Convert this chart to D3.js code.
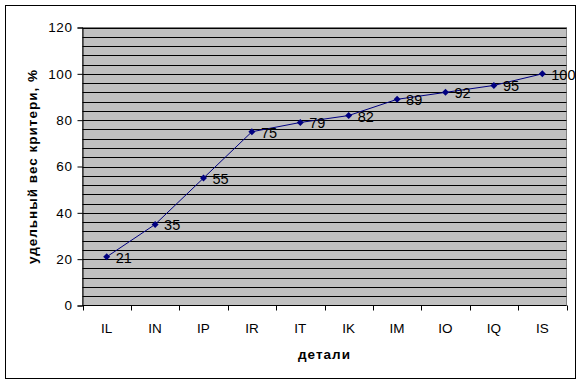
<!DOCTYPE html>
<html lang="ru">
<head>
<meta charset="UTF-8">
<title>удельный вес критери</title>
<script src="https://cdnjs.cloudflare.com/ajax/libs/d3/7.8.5/d3.min.js"></script>
<style>
    body { margin: 0; background: #fff; font-family: "Liberation Sans", Arial, sans-serif; }
    svg text { fill: #000; }
</style>
</head>
<body>
<div id="chart"></div>
<script>
    const categories = ["IL", "IN", "IP", "IR", "IT", "IK", "IM", "IO", "IQ", "IS"];
    const values = [21, 35, 55, 75, 79, 82, 89, 92, 95, 100];
    const yTicks = [0, 20, 40, 60, 80, 100, 120];
    const gridValues = d3.range(0, 121, 4);

    const W = 582, H = 385;
    const plot = { left: 82.5, right: 566.5, top: 27.5, bottom: 305.5 };

    const svg = d3.select("#chart").append("svg")
        .attr("width", W).attr("height", H);

    // outer frame
    svg.append("rect")
        .attr("x", 5.5).attr("y", 5.5)
        .attr("width", 570).attr("height", 373)
        .attr("fill", "#fff").attr("stroke", "#000").attr("stroke-width", 1);

    const x = d3.scaleBand().domain(categories).range([plot.left, plot.right]);
    const y = d3.scaleLinear().domain([0, 120]).range([plot.bottom, plot.top]);

    // plot area
    svg.append("rect")
        .attr("x", plot.left).attr("y", plot.top)
        .attr("width", plot.right - plot.left).attr("height", plot.bottom - plot.top)
        .attr("fill", "#c0c0c0").attr("stroke", "#808080");

    // gridlines
    svg.append("g").selectAll("line")
        .data(gridValues.filter(d => d > 0))
        .join("line")
        .attr("x1", plot.left).attr("x2", plot.right)
        .attr("y1", d => Math.round(y(d)) + 0.5).attr("y2", d => Math.round(y(d)) + 0.5)
        .attr("stroke", "#000").attr("stroke-width", 1);

    // y axis
    const yAxis = svg.append("g")
        .attr("transform", `translate(${plot.left},0)`)
        .call(d3.axisLeft(y).tickValues(yTicks).tickSize(5).tickPadding(5));
    yAxis.select(".domain").attr("stroke", "#000");
    yAxis.selectAll("text")
        .attr("font-size", 13.5)
        .attr("letter-spacing", 0.6)
        .attr("font-family", "Liberation Sans, Arial, sans-serif");

    // x axis with ticks at band boundaries
    const xAxis = svg.append("g")
        .attr("transform", `translate(0,${plot.bottom})`);
    xAxis.append("line")
        .attr("x1", plot.left).attr("x2", plot.right)
        .attr("stroke", "#000");
    xAxis.selectAll(".tk")
        .data(categories.concat([null]))
        .join("line")
        .attr("class", "tk")
        .attr("x1", (d, i) => Math.round(plot.left + i * x.bandwidth()) + 0.5)
        .attr("x2", (d, i) => Math.round(plot.left + i * x.bandwidth()) + 0.5)
        .attr("y1", 0).attr("y2", 5)
        .attr("stroke", "#000");
    xAxis.selectAll("text")
        .data(categories)
        .join("text")
        .attr("x", d => x(d) + x.bandwidth() / 2)
        .attr("y", 27)
        .attr("text-anchor", "middle")
        .attr("font-size", 13.5)
        .text(d => d);

    // line
    const line = d3.line()
        .x((d, i) => x(categories[i]) + x.bandwidth() / 2)
        .y(d => y(d));
    svg.append("path")
        .datum(values)
        .attr("d", line)
        .attr("fill", "none")
        .attr("stroke", "#000080")
        .attr("stroke-width", 1);

    // markers
    svg.append("g").selectAll("path")
        .data(values)
        .join("path")
        .attr("transform", (d, i) => `translate(${x(categories[i]) + x.bandwidth() / 2},${y(d)})`)
        .attr("d", "M0,-3.5L3.5,0L0,3.5L-3.5,0Z")
        .attr("fill", "#000080");

    // data labels
    svg.append("g").selectAll("text")
        .data(values)
        .join("text")
        .attr("x", (d, i) => x(categories[i]) + x.bandwidth() / 2 + 9)
        .attr("y", d => y(d) + 6)
        .attr("font-size", 14.5)
        .text(d => d);

    // axis titles
    svg.append("text")
        .attr("x", (plot.left + plot.right) / 2)
        .attr("y", 359)
        .attr("text-anchor", "middle")
        .attr("font-size", 13.5)
        .attr("letter-spacing", 1)
        .attr("font-weight", "bold")
        .text("детали");

    svg.append("text")
        .attr("transform", `translate(37,${(plot.top + plot.bottom) / 2}) rotate(-90)`)
        .attr("text-anchor", "middle")
        .attr("font-size", 13.5)
        .attr("letter-spacing", 1)
        .attr("font-weight", "bold")
        .text("удельный вес критери, %");
</script>
</body>
</html>
